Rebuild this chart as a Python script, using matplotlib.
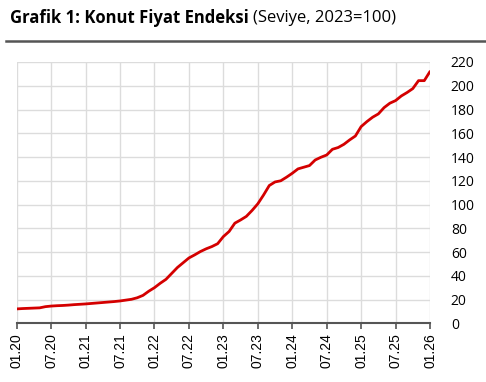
import matplotlib.pyplot as plt
import numpy as np

# monthly index, 01.2020 .. 01.2026
values = [12.1, 12.4, 12.6, 12.8, 13.0, 14.0, 14.5, 14.8, 15.0, 15.3, 15.7, 16.0,
          16.3, 16.7, 17.1, 17.5, 17.9, 18.3, 18.8, 19.5, 20.2, 21.5, 23.5, 27.0,
          30.0, 33.7, 37.0, 42.0, 47.0, 51.0, 55.0, 57.6, 60.4, 62.7, 64.6, 67.0,
          73.0, 77.3, 84.3, 87.0, 90.0, 95.0, 100.6, 108.0, 116.0, 119.0, 120.0, 123.0,
          126.3, 130.0, 131.4, 132.8, 137.5, 139.8, 141.7, 146.5, 148.0, 150.7, 154.4, 157.7,
          165.6, 169.8, 173.5, 176.3, 181.6, 185.3, 187.5, 191.4, 194.3, 197.6, 204.3, 204.3,
          212.0]
tick_labels = ["01.20", "07.20", "01.21", "07.21", "01.22", "07.22", "01.23",
               "07.23", "01.24", "07.24", "01.25", "07.25", "01.26"]
yticks = list(range(0, 221, 20))

months = np.arange(len(values))

fig = plt.figure(figsize=(4.86, 3.82), dpi=100)
ax = fig.add_axes([0.0344, 0.1537, 0.8504, 0.684])

ax.plot(months, values, color="#d40000", lw=2.0, solid_capstyle="round", zorder=3)

ax.set_xlim(0, 72)
ax.set_ylim(0, 220)
ax.set_xticks(np.arange(0, 73, 6))
ax.set_xticklabels(tick_labels, rotation=90, fontsize=10, family="Liberation Sans")
ax.set_yticks(yticks)
ax.set_yticklabels([str(v) for v in yticks], fontsize=10, family="Open Sans")
ax.yaxis.tick_right()
ax.tick_params(axis="y", length=0, pad=15)
ax.tick_params(axis="x", length=4, color="#555555", width=1.2, pad=3)

ax.grid(True, color="#dcdcdc", lw=1.0)
ax.set_axisbelow(True)
for s in ["top", "left", "right"]:
    ax.spines[s].set_visible(False)
ax.spines["bottom"].set_color("#555555")
ax.spines["bottom"].set_linewidth(1.5)
ax.spines["bottom"].set_zorder(4)

# title: bold part + normal part
t1 = fig.text(10 / 486, 1 - 18 / 382, "Grafik 1: Konut Fiyat Endeksi", fontsize=12,
              fontweight="bold", family="Open Sans", va="center", ha="left")
fig.canvas.draw()
bb = t1.get_window_extent()
fig.text((bb.x1 + 4) / 486, 1 - 18 / 382, "(Seviye, 2023=100)", fontsize=12,
         family="Open Sans", va="center", ha="left")

fig.add_artist(plt.Line2D([6 / 486, 1], [1 - 41 / 382] * 2, color="#555555", lw=1.8))

fig.savefig("out.png", dpi=100)
